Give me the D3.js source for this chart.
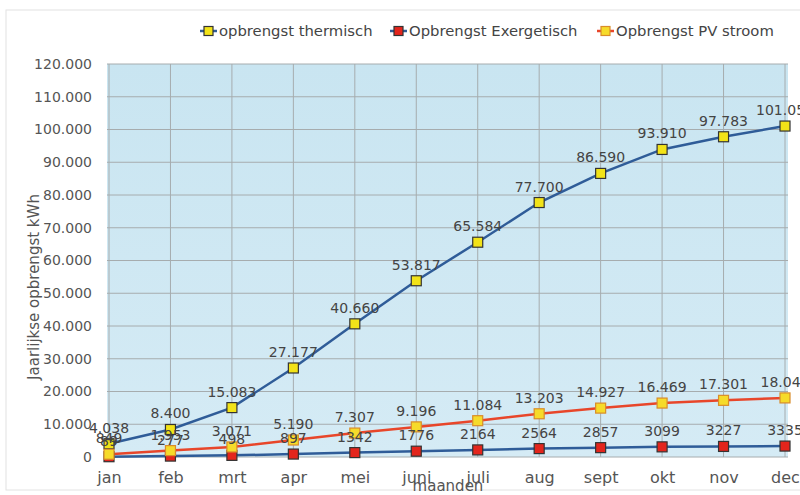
<!DOCTYPE html>
<html>
<head>
<meta charset="utf-8">
<script src="https://cdn.jsdelivr.net/npm/d3@7"></script>
<style>
    body { margin: 0; background: #fff; }
    svg { display: block; font-family: "DejaVu Sans", sans-serif; }
</style>
</head>
<body>
<svg id="chart" width="800" height="495"></svg>
<script>
const months = ["jan", "feb", "mrt", "apr", "mei", "juni", "juli", "aug", "sept", "okt", "nov", "dec"];
const thermisch = [4038, 8400, 15083, 27177, 40660, 53817, 65584, 77700, 86590, 93910, 97783, 101053];
const exergetisch = [89, 277, 498, 897, 1342, 1776, 2164, 2564, 2857, 3099, 3227, 3335];
const pvStroom = [849, 1953, 3071, 5190, 7307, 9196, 11084, 13203, 14927, 16469, 17301, 18040];
const yTicks = [0, 10000, 20000, 30000, 40000, 50000, 60000, 70000, 80000, 90000, 100000, 110000, 120000];

const svg = d3.select("#chart");

const nl = d3.formatLocale({ decimal: ",", thousands: ".", grouping: [3], currency: ["€", ""] });
const fmtDot = nl.format(",d");
const fmtPlain = d3.format("d");

const x = d3.scalePoint().domain(months).range([109, 785]);
const y = d3.scaleLinear().domain([0, 120000]).range([457, 64]);

// chart frame
svg.append("rect")
    .attr("x", 6).attr("y", 10)
    .attr("width", 800).attr("height", 480)
    .attr("fill", "#fff")
    .attr("stroke", "#e2e2e2");

// plot background
const grad = svg.append("defs").append("linearGradient")
    .attr("id", "bg").attr("x1", 0).attr("y1", 0).attr("x2", 0).attr("y2", 1);
grad.append("stop").attr("offset", "0%").attr("stop-color", "#c9e5f1");
grad.append("stop").attr("offset", "100%").attr("stop-color", "#d5ebf5");

svg.append("rect")
    .attr("x", 107).attr("y", y(120000))
    .attr("width", 788 - 107).attr("height", y(0) - y(120000))
    .attr("fill", "url(#bg)");

// grid
svg.append("g")
    .selectAll("line")
    .data(yTicks)
    .join("line")
    .attr("x1", 107).attr("x2", 788)
    .attr("y1", d => y(d)).attr("y2", d => y(d))
    .attr("stroke", "#a6acae").attr("stroke-width", 1);

svg.append("g")
    .selectAll("line")
    .data(months)
    .join("line")
    .attr("x1", d => x(d)).attr("x2", d => x(d))
    .attr("y1", y(120000)).attr("y2", y(0))
    .attr("stroke", "#a6acae").attr("stroke-width", 1);

// axes (labels only)
const yAxis = svg.append("g")
    .attr("transform", "translate(92,0)")
    .call(d3.axisLeft(y).tickValues(yTicks).tickSize(0).tickPadding(0).tickFormat(fmtDot));
yAxis.select(".domain").remove();
yAxis.selectAll("text")
    .attr("font-size", 14).attr("fill", "#555")
    .attr("font-family", "DejaVu Sans, sans-serif");

const xAxis = svg.append("g")
    .attr("transform", `translate(0,${y(0)})`)
    .call(d3.axisBottom(x).tickSize(0).tickPadding(15));
xAxis.select(".domain").remove();
xAxis.selectAll("text")
    .attr("font-size", 16).attr("fill", "#555")
    .attr("font-family", "DejaVu Sans, sans-serif");

svg.append("text")
    .attr("x", 448).attr("y", 491)
    .attr("text-anchor", "middle")
    .attr("font-size", 15).attr("fill", "#555")
    .text("maanden");

svg.append("text")
    .attr("transform", "translate(39,287) rotate(-90)")
    .attr("text-anchor", "middle")
    .attr("font-size", 15).attr("fill", "#555")
    .text("Jaarlijkse opbrengst kWh");

// series
const series = [
    { name: "opbrengst thermisch", values: thermisch, line: "#2f5c98", fill: "#f2e318", edge: "#333", fmt: fmtDot },
    { name: "Opbrengst Exergetisch", values: exergetisch, line: "#2f5c98", fill: "#e3251c", edge: "#333", fmt: fmtPlain },
    { name: "Opbrengst PV stroom", values: pvStroom, line: "#e8462a", fill: "#f6db2a", edge: "#d98c2a", fmt: fmtDot }
];

const line = d3.line()
    .x((d, i) => x(months[i]))
    .y(d => y(d));

for (const s of series) {
    svg.append("path")
        .datum(s.values)
        .attr("fill", "none")
        .attr("stroke", s.line)
        .attr("stroke-width", 2.5)
        .attr("d", line);
}

for (const s of series) {
    svg.append("g")
        .selectAll("rect")
        .data(s.values)
        .join("rect")
        .attr("x", (d, i) => x(months[i]) - 5)
        .attr("y", d => y(d) - 5)
        .attr("width", 10).attr("height", 10)
        .attr("fill", s.fill)
        .attr("stroke", s.edge).attr("stroke-width", 1.2);
}

for (const s of series) {
    svg.append("g")
        .selectAll("text")
        .data(s.values)
        .join("text")
        .attr("x", (d, i) => x(months[i]))
        .attr("y", d => y(d) - 11)
        .attr("text-anchor", "middle")
        .attr("font-size", 14).attr("fill", "#444")
        .text(d => s.fmt(d));
}

// legend
const legendX = [200, 390, 597];
const legend = svg.append("g");
series.forEach((s, i) => {
    const g = legend.append("g").attr("transform", `translate(${legendX[i]},31)`);
    g.append("line")
        .attr("x1", 0).attr("x2", 17)
        .attr("stroke", s.line).attr("stroke-width", 2.5);
    g.append("rect")
        .attr("x", 4).attr("y", -4.5)
        .attr("width", 9).attr("height", 9)
        .attr("fill", s.fill)
        .attr("stroke", s.edge).attr("stroke-width", 1.2);
    g.append("text")
        .attr("x", 19).attr("dy", "0.35em")
        .attr("font-size", 14.8).attr("fill", "#444")
        .text(s.name);
});
</script>
</body>
</html>
